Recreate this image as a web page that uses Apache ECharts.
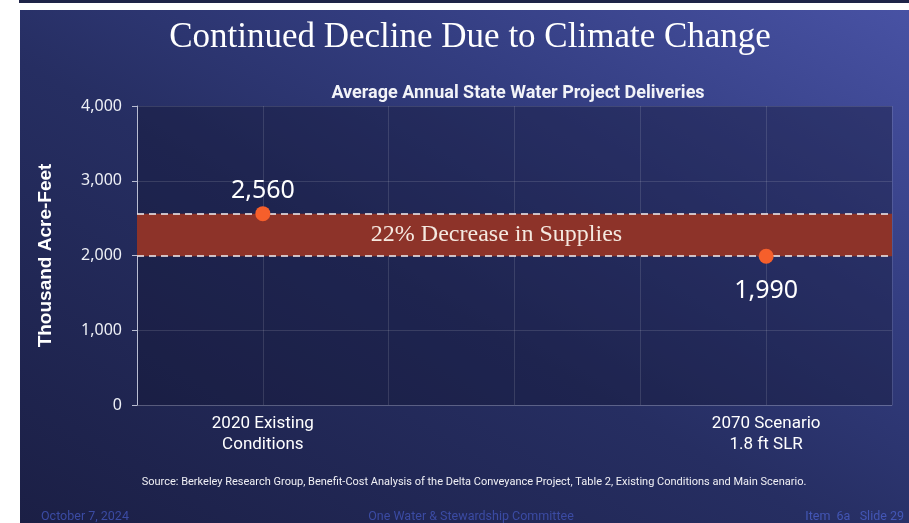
<!DOCTYPE html>
<html>
<head>
<meta charset="utf-8">
<script src="https://cdn.jsdelivr.net/npm/echarts@6/dist/echarts.min.js"></script>
<style>
  html, body { margin:0; padding:0; width:909px; height:523px; overflow:hidden; background:#ffffff; }
  #topbar { position:absolute; left:19px; top:0; width:890px; height:3px; background:#1e2448; }
  #slide { position:absolute; left:20px; top:10px; width:889px; height:513px;
    background: linear-gradient(to top right, #1b1f45 0%, #262e62 45%, #333d80 70%, #4852a4 100%); }
  #chart { position:absolute; left:0; top:0; width:909px; height:523px; }
</style>
</head>
<body>
<div id="topbar"></div>
<div id="slide"></div>
<div id="chart"></div>
<script>
// ---- data ----
const xCategories = ['', '2020 Existing\nConditions', '', '', '', '2070 Scenario\n1.8 ft SLR', ''];
const pointCategories = ['2020 Existing\nConditions', '2070 Scenario\n1.8 ft SLR'];
const deliveries = [2560, 1990];
const yTicks = [0, 1000, 2000, 3000, 4000];
const bandLabel = '22% Decrease in Supplies';
const titleText = 'Continued Decline Due to Climate Change';
const subtitleText = 'Average Annual State Water Project Deliveries';
const yAxisName = 'Thousand Acre-Feet';
const sourceText = 'Source: Berkeley Research Group, Benefit-Cost Analysis of the Delta Conveyance Project, Table 2, Existing Conditions and Main Scenario.';
const footerLeft = 'October 7, 2024';
const footerMid = 'One Water & Stewardship Committee';
const footerRight = 'Item  6a   Slide 29';

const chart = echarts.init(document.getElementById('chart'), null, {renderer:'canvas'});
const fmt = v => v.toLocaleString('en-US');

chart.setOption({
  backgroundColor: 'transparent',
  animation: false,
  title: [
    { text: titleText, left: 465, top: 15, textAlign: 'center',
      textStyle: { fontFamily: 'Liberation Serif', fontWeight: 'normal', fontSize: 35, color: '#ffffff' } },
    { text: subtitleText, left: 513, top: 79, textAlign: 'center',
      textStyle: { fontFamily: 'Roboto', fontWeight: 'bold', fontSize: 18, color: '#f2f3f8' } },
    { text: sourceText, left: 469, top: 472, textAlign: 'center',
      textStyle: { fontFamily: 'Roboto', fontWeight: 'normal', fontSize: 11, color: '#f0f0f5' } },
    { text: footerLeft, left: 36, top: 505,
      textStyle: { fontFamily: 'Roboto', fontWeight: 'normal', fontSize: 12.5, color: '#3b4ba3' } },
    { text: footerMid, left: 466, top: 505, textAlign: 'center',
      textStyle: { fontFamily: 'Roboto', fontWeight: 'normal', fontSize: 12.5, color: '#3b4ba3' } },
    { text: footerRight, right: 0, top: 505,
      textStyle: { fontFamily: 'Roboto', fontWeight: 'normal', fontSize: 12.5, color: '#4356b5' } }
  ],
  grid: { left: 137, right: 17, top: 106, bottom: 118, show: true,
          backgroundColor: 'rgba(18,22,50,0.38)', borderWidth: 0 },
  xAxis: {
    type: 'category', data: xCategories, boundaryGap: false,
    axisLine: { show: true, lineStyle: { color: 'rgba(255,255,255,0.15)' } },
    axisTick: { show: false },
    axisLabel: { interval: 0, color: '#ffffff', fontFamily: 'Roboto', fontSize: 17, lineHeight: 21, margin: 8 },
    splitLine: { show: true, lineStyle: { color: 'rgba(255,255,255,0.12)', width: 1 } }
  },
  yAxis: {
    type: 'value', min: yTicks[0], max: yTicks[yTicks.length-1], interval: 1000,
    name: yAxisName, nameLocation: 'middle', nameRotate: 90, nameGap: 82,
    nameTextStyle: { fontFamily: 'Liberation Sans', fontWeight: 'bold', fontSize: 19, color: '#ffffff' },
    axisLine: { show: true, lineStyle: { color: '#b9bdd2', width: 1 } },
    axisTick: { show: true, length: 5, lineStyle: { color: '#b9bdd2' } },
    axisLabel: { color: '#eef0f6', fontFamily: 'Noto Sans', fontSize: 16, margin: 15, formatter: fmt },
    splitLine: { show: true, lineStyle: { color: 'rgba(255,255,255,0.12)', width: 1 } }
  },
  series: [
    {
      type: 'line',
      data: [],
      markArea: {
        silent: true,
        itemStyle: { color: '#8d3329' },
        label: { show: true, position: 'inside', offset: [-18, 0], formatter: bandLabel,
                 fontFamily: 'Liberation Serif', fontSize: 24, color: '#f5e9e0' },
        data: [[{ yAxis: deliveries[1] }, { yAxis: deliveries[0] }]]
      },
      markLine: {
        silent: true, symbol: ['none','none'],
        lineStyle: { color: '#f1f1f4', type: [7, 5], width: 1.5 },
        label: { show: false },
        data: [{ yAxis: deliveries[0] }, { yAxis: deliveries[1] }]
      }
    },
    {
      type: 'scatter',
      symbol: 'circle', symbolSize: 15,
      itemStyle: { color: '#f65f2b', opacity: 1 },
      z: 5,
      data: [
        { value: [pointCategories[0], deliveries[0]],
          label: { show: true, position: 'top', distance: 3 } },
        { value: [pointCategories[1], deliveries[1]],
          label: { show: true, position: 'bottom', distance: 15 } }
      ],
      label: { color: '#ffffff', fontFamily: 'Noto Sans', fontSize: 25,
               formatter: p => fmt(p.value[1]) }
    }
  ]
});
</script>
</body>
</html>
